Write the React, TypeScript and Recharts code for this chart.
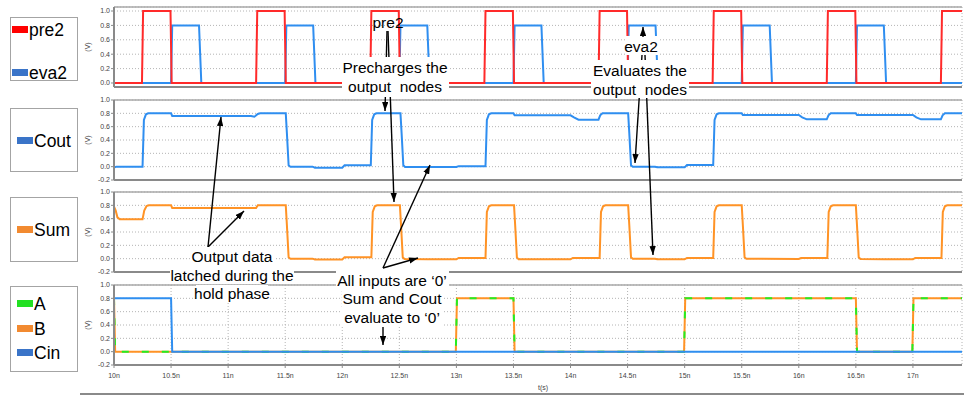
import React from "react";
import { LineChart, Line, XAxis, YAxis, CartesianGrid, ReferenceLine } from "recharts";

// time axis (ns)
const T_START = 10;
const T_END = 17.43;
const timeTicks = [10, 10.5, 11, 11.5, 12, 12.5, 13, 13.5, 14, 14.5, 15, 15.5, 16, 16.5, 17];
const clockTicks = [0, 0.2, 0.4, 0.6, 0.8, 1.0];
const voltTicks = [-0.2, 0, 0.2, 0.4, 0.6, 0.8, 1.0];

// [t (ns), V]
const pre2: [number, number][] = [
  [10, 0], [10.245, 0], [10.255, 1], [10.495, 1], [10.505, 0],
  [11.245, 0], [11.255, 1], [11.495, 1], [11.505, 0],
  [12.245, 0], [12.255, 1], [12.495, 1], [12.505, 0],
  [13.245, 0], [13.255, 1], [13.495, 1], [13.505, 0],
  [14.245, 0], [14.255, 1], [14.495, 1], [14.505, 0],
  [15.245, 0], [15.255, 1], [15.495, 1], [15.505, 0],
  [16.245, 0], [16.255, 1], [16.495, 1], [16.505, 0],
  [17.245, 0], [17.255, 1], [17.43, 1],
];

const eva2: [number, number][] = [
  [10, 0], [10.5, 0], [10.51, 0.8], [10.745, 0.8], [10.765, 0],
  [11.5, 0], [11.51, 0.8], [11.745, 0.8], [11.765, 0],
  [12.5, 0], [12.51, 0.8], [12.745, 0.8], [12.765, 0],
  [13.5, 0], [13.51, 0.8], [13.745, 0.8], [13.765, 0],
  [14.5, 0], [14.51, 0.8], [14.745, 0.8], [14.765, 0],
  [15.5, 0], [15.51, 0.8], [15.745, 0.8], [15.765, 0],
  [16.5, 0], [16.51, 0.8], [16.745, 0.8], [16.765, 0],
  [17.43, 0],
];

const cout: [number, number][] = [
  [10, -0.015], [10.02, 0], [10.25, 0], [10.262, 0.7], [10.28, 0.785], [10.3, 0.8],
  [10.5, 0.8], [10.51, 0.76], [11.2, 0.76], [11.23, 0.75], [11.26, 0.79], [11.28, 0.8],
  [11.505, 0.8], [11.515, 0.5], [11.53, 0.02], [11.545, 0], [11.74, 0], [11.76, -0.015],
  [12.0, -0.015], [12.02, 0.02], [12.25, 0.02], [12.262, 0.7], [12.28, 0.785], [12.3, 0.8],
  [12.51, 0.8], [12.52, 0.5], [12.535, 0.02], [12.55, -0.005], [13.0, -0.005], [13.02, 0.008],
  [13.255, 0.008], [13.267, 0.7], [13.285, 0.785], [13.305, 0.8], [13.5, 0.8], [13.51, 0.77],
  [14.0, 0.77], [14.03, 0.74], [14.07, 0.705], [14.245, 0.705], [14.26, 0.77], [14.28, 0.8],
  [14.505, 0.8], [14.515, 0.5], [14.53, 0.02], [14.545, 0], [14.74, 0], [14.76, -0.01],
  [15.0, -0.01], [15.02, 0.025], [15.25, 0.025], [15.262, 0.7], [15.28, 0.785], [15.3, 0.8],
  [15.5, 0.8], [15.51, 0.775], [16.0, 0.775], [16.03, 0.74], [16.07, 0.71], [16.245, 0.71],
  [16.26, 0.77], [16.28, 0.8], [16.5, 0.8], [16.51, 0.775], [17.0, 0.775], [17.03, 0.74],
  [17.07, 0.71], [17.245, 0.71], [17.26, 0.77], [17.28, 0.8], [17.43, 0.8],
];

const sum: [number, number][] = [
  [10, 0.78], [10.015, 0.72], [10.03, 0.62], [10.05, 0.59], [10.25, 0.59], [10.265, 0.72],
  [10.285, 0.79], [10.305, 0.8], [10.5, 0.8], [10.51, 0.76], [11.245, 0.76], [11.26, 0.8],
  [11.505, 0.8], [11.515, 0.5], [11.53, 0.02], [11.545, 0], [11.74, 0], [11.76, -0.012],
  [12.0, -0.012], [12.02, 0.02], [12.255, 0.02], [12.267, 0.7], [12.285, 0.785], [12.305, 0.8],
  [12.505, 0.8], [12.515, 0.5], [12.53, 0.02], [12.545, -0.005], [12.75, -0.01], [13.0, -0.01],
  [13.02, 0.01], [13.255, 0.01], [13.267, 0.7], [13.285, 0.785], [13.305, 0.8], [13.505, 0.8],
  [13.515, 0.5], [13.53, 0.02], [13.545, -0.01], [14.0, -0.01], [14.02, 0.01], [14.255, 0.01],
  [14.267, 0.7], [14.285, 0.785], [14.305, 0.8], [14.505, 0.8], [14.515, 0.5], [14.53, 0.02],
  [14.545, 0], [14.74, 0], [14.76, -0.01], [15.0, -0.01], [15.02, 0.01], [15.25, 0.01],
  [15.262, 0.7], [15.28, 0.785], [15.3, 0.8], [15.5, 0.8], [15.51, 0.5], [15.525, 0.02],
  [15.54, 0], [16.0, -0.005], [16.02, 0.01], [16.25, 0.01], [16.262, 0.7], [16.28, 0.785],
  [16.3, 0.8], [16.5, 0.8], [16.51, 0.5], [16.525, 0.02], [16.54, -0.005], [16.75, -0.01],
  [17.0, -0.01], [17.02, 0.01], [17.25, 0.01], [17.262, 0.7], [17.28, 0.785], [17.3, 0.8],
  [17.43, 0.8],
];

const inputA: [number, number][] = [
  [10, 0.8], [10.01, 0], [12.995, 0], [13.005, 0.8], [13.5, 0.8], [13.51, 0],
  [14.995, 0], [15.005, 0.8], [16.5, 0.8], [16.51, 0], [16.995, 0], [17.005, 0.8], [17.43, 0.8],
];
const inputB: [number, number][] = [
  [10, 0.8], [10.01, 0], [12.995, 0], [13.005, 0.8], [13.5, 0.8], [13.51, 0],
  [14.995, 0], [15.005, 0.8], [16.5, 0.8], [16.51, 0], [16.995, 0], [17.005, 0.8], [17.43, 0.8],
];
const cin: [number, number][] = [
  [10, 0.8], [10.5, 0.8], [10.51, 0], [17.43, 0],
];

const RED = "#ff2a2a";
const BLUE = "#2f8ef0";
const ORANGE = "#ff9326";
const GREEN = "#22ee22";
const FONT = '"Liberation Sans", Arial, sans-serif';

const toRows = (pts: [number, number][]) => pts.map(([t, v]) => ({ t, v }));

type Series = { name: string; data: [number, number][]; color: string; dash?: string };

function Panel({ top, domain, yTicks, series, last }: {
  top: number; domain: [number, number]; yTicks: number[]; series: Series[]; last?: boolean;
}) {
  const mt = 4;
  const plotH = 80;
  const xH = last ? 24 : 1;
  const mb = 2;
  return (
    <div style={{ position: "absolute", left: 0, top: top - mt }}>
      <LineChart width={964} height={mt + plotH + xH + mb} margin={{ top: mt, right: 2, bottom: mb, left: 84 }}>
        <CartesianGrid stroke="#b4b4b4" strokeDasharray="1 2" />
        <XAxis
          type="number"
          dataKey="t"
          domain={[T_START, T_END]}
          ticks={timeTicks}
          interval={0}
          allowDataOverflow
          height={xH}
          axisLine={{ stroke: "#8a8a8a", strokeWidth: 2 }}
          tickLine={last ? { stroke: "#8a8a8a" } : false}
          tickSize={3}
          tickMargin={5}
          tick={last ? { fontSize: 7, fill: "#444", fontFamily: FONT } : false}
          tickFormatter={(v: number) => `${v}n`}
        />
        <YAxis
          type="number"
          domain={domain}
          ticks={yTicks}
          interval={0}
          allowDataOverflow
          width={30}
          axisLine={{ stroke: "#8a8a8a", strokeWidth: 2 }}
          tickLine={{ stroke: "#8a8a8a" }}
          tickSize={3}
          tickMargin={1}
          tick={{ fontSize: 7, fill: "#444", fontFamily: FONT }}
          tickFormatter={(v: number) => v.toFixed(1)}
        />
        <ReferenceLine y={domain[1]} stroke="#a8a8a8" strokeWidth={1.5} />
        {series.map((s) => (
          <Line
            key={s.name}
            name={s.name}
            data={toRows(s.data)}
            dataKey="v"
            type="linear"
            stroke={s.color}
            strokeWidth={2}
            strokeDasharray={s.dash}
            dot={false}
            activeDot={false}
            isAnimationActive={false}
          />
        ))}
      </LineChart>
    </div>
  );
}

function LegendBox({ top, height, items }: {
  top: number; height: number; items: { label: string; color: string; y: number; x: number }[];
}) {
  return (
    <div style={{ position: "absolute", left: 10, top, width: 68, height, border: "1.5px solid #a4a4a4", boxSizing: "border-box" }}>
      {items.map((it) => (
        <React.Fragment key={it.label}>
          <div style={{ position: "absolute", left: it.x, top: it.y - 4, width: 16, height: 7, background: it.color }} />
          <div style={{ position: "absolute", left: it.x + 17, top: it.y - 11, fontFamily: FONT, fontSize: 17.5, lineHeight: "22px", color: "#000" }}>
            {it.label}
          </div>
        </React.Fragment>
      ))}
    </div>
  );
}

function Note({ x, y, text, bg }: { x: number; y: number; text: string; bg?: [number, number, number, number] }) {
  return (
    <g>
      {bg && <rect x={bg[0]} y={bg[1]} width={bg[2]} height={bg[3]} fill="#fff" />}
      <text x={x} y={y} textAnchor="middle" dominantBaseline="central" fontFamily={FONT} fontSize={15.5} fill="#000" style={{ whiteSpace: "pre" }}>
        {text}
      </text>
    </g>
  );
}

function Arrow({ x1, y1, x2, y2 }: { x1: number; y1: number; x2: number; y2: number }) {
  return <line x1={x1} y1={y1} x2={x2} y2={y2} stroke="#000" strokeWidth={1.4} markerEnd="url(#ah)" />;
}

export default function App() {
  return (
    <div style={{ position: "absolute", left: 0, top: 0, width: 964, height: 396, background: "#fff", overflow: "hidden" }}>
      <Panel
        top={7}
        domain={[-0.0556, 1.0556]}
        yTicks={clockTicks}
        series={[
          { name: "eva2", data: eva2, color: BLUE },
          { name: "pre2", data: pre2, color: RED },
        ]}
      />
      <Panel top={100} domain={[-0.2, 1.0]} yTicks={voltTicks} series={[{ name: "Cout", data: cout, color: BLUE }]} />
      <Panel top={192} domain={[-0.2, 1.0]} yTicks={voltTicks} series={[{ name: "Sum", data: sum, color: ORANGE }]} />
      <Panel
        top={285}
        domain={[-0.2, 1.0]}
        yTicks={voltTicks}
        last
        series={[
          { name: "B", data: inputB, color: ORANGE },
          { name: "A", data: inputA, color: GREEN, dash: "7 13" },
          { name: "Cin", data: cin, color: BLUE },
        ]}
      />

      <LegendBox top={17} height={64} items={[
        { label: "pre2", color: "#ff0000", y: 12, x: 1 },
        { label: "eva2", color: "#3a74c8", y: 55, x: 1 },
      ]} />
      <LegendBox top={108} height={64} items={[{ label: "Cout", color: "#3a74c8", y: 32, x: 6 }]} />
      <LegendBox top={197} height={65} items={[{ label: "Sum", color: "#f28a30", y: 32, x: 6 }]} />
      <LegendBox top={286} height={86} items={[
        { label: "A", color: "#22e022", y: 17, x: 6 },
        { label: "B", color: "#f28a30", y: 42, x: 6 },
        { label: "Cin", color: "#3a74c8", y: 66, x: 6 },
      ]} />

      <svg width={964} height={396} style={{ position: "absolute", left: 0, top: 0, pointerEvents: "none" }}>
        <defs>
          <marker id="ah" viewBox="0 0 10 7" refX={10} refY={3.5} markerWidth={9} markerHeight={6.5} markerUnits="userSpaceOnUse" orient="auto">
            <path d="M0,0 L10,3.5 L0,7 z" fill="#000" />
          </marker>
        </defs>
        {[47, 140, 232, 325].map((cy) => (
          <text key={cy} x={87} y={cy} transform={`rotate(-90 87 ${cy})`} textAnchor="middle" dominantBaseline="central" fontFamily={FONT} fontSize={7} fill="#444">
            (V)
          </text>
        ))}
        <text x={543} y={387} textAnchor="middle" dominantBaseline="central" fontFamily={FONT} fontSize={7} fill="#444">t(s)</text>
        <line x1={80} y1={394} x2={964} y2={394} stroke="#8a8a8a" strokeWidth={2} />

        {/* arrows */}
        <Arrow x1={208} y1={247} x2={221} y2={117} />
        <Arrow x1={208} y1={247} x2={244} y2={211} />
        <Arrow x1={387} y1={31} x2={385} y2={111} />
        <Arrow x1={388} y1={31} x2={394} y2={202} />
        <Arrow x1={383} y1={268} x2={430} y2={165} />
        <Arrow x1={383} y1={268} x2={418} y2={258} />
        <Arrow x1={642} y1={55} x2={635} y2={163} />
        <Arrow x1={645} y1={55} x2={653} y2={255} />
        <Arrow x1={383} y1={327} x2={383} y2={345} />

        {/* labels */}
        <Note x={388} y={22} text="pre2" />
        <Note x={395} y={67} text="Precharges the" bg={[342, 57, 107, 40]} />
        <Note x={395} y={86} text="output  nodes" />
        <Note x={641} y={46} text="eva2" bg={[626, 36, 32, 19]} />
        <Note x={640} y={70} text="Evaluates the" bg={[591, 60, 98, 38]} />
        <Note x={640} y={89} text="output  nodes" />
        <Arrow x1={643} y1={37} x2={643} y2={27} />
        <Note x={232} y={256} text="Output data" bg={[190, 247, 84, 18]} />
        <Note x={232} y={275} text="latched during the" bg={[170, 266, 124, 18]} />
        <Note x={232} y={293} text="hold phase" bg={[196, 285, 72, 17]} />
        <Note x={392} y={280} text="All inputs are ‘0’" bg={[336, 271, 113, 18]} />
        <Note x={392} y={298} text="Sum and Cout" bg={[342, 289, 100, 18]} />
        <Note x={392} y={317} text="evaluate to ‘0’" bg={[340, 308, 104, 18]} />
      </svg>
    </div>
  );
}
